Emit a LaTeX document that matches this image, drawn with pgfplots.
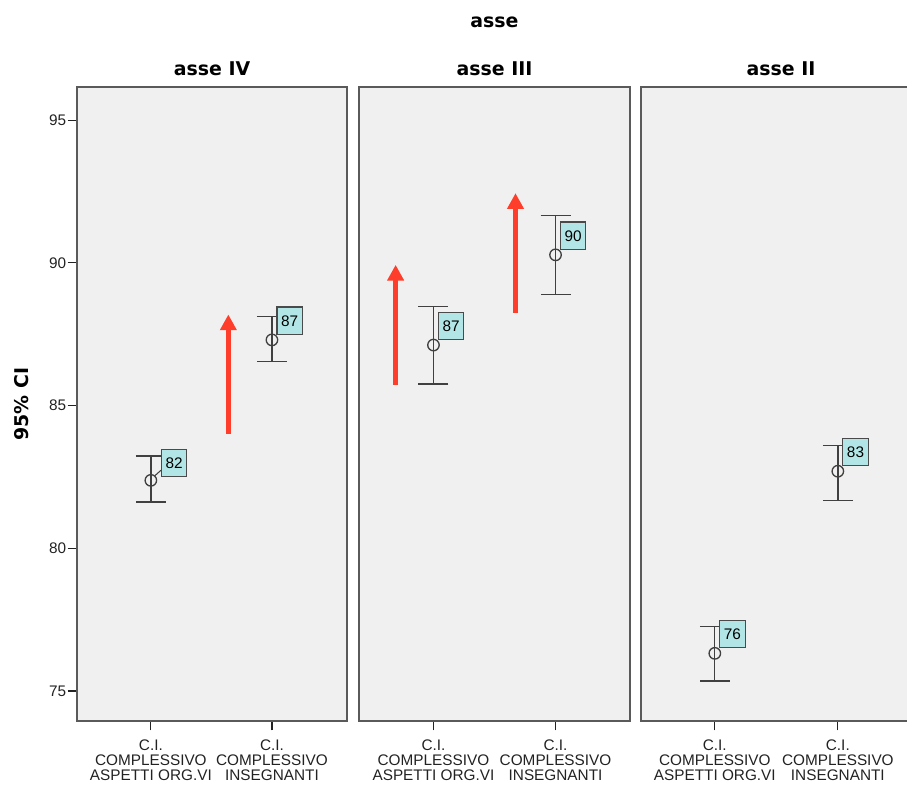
\documentclass[border=0pt]{standalone}
\usepackage{fontspec}
\setmainfont{Liberation Sans}
\newfontfamily\dejavu{DejaVu Sans}
\usepackage{pgfplots}
\pgfplotsset{compat=1.18}
\usetikzlibrary{arrows.meta}
\definecolor{panelbg}{HTML}{F0F0F0}
\definecolor{framecol}{HTML}{5A5A5A}
\definecolor{ebcol}{HTML}{404040}
\definecolor{boxfill}{HTML}{B2E6E6}
\definecolor{boxborder}{HTML}{4A4A4A}
\definecolor{arrred}{HTML}{FF3D2B}
\definecolor{tickcol}{HTML}{222222}
\pgfplotsset{
  panel/.style={
    scale only axis, height=475.5pt,
    ymin=73.95, ymax=96.16,
    xtick={0,1},
    xticklabels={{C.I.\\COMPLESSIVO\\ASPETTI ORG.VI},{C.I.\\COMPLESSIVO\\INSEGNANTI}},
    xticklabel style={align=center, font=\fontsize{11.5}{11.2}\selectfont, text=tickcol, inner sep=1pt, yshift=-6pt},
    yticklabel style={font=\fontsize{11.5}{12}\selectfont, text=tickcol, inner sep=1pt},
    /pgf/number format/assume math mode=true,
    axis background/.style={fill=panelbg},
    axis line style={draw=framecol, line width=1.2pt},
    tick style={draw=tickcol, line width=0.9pt},
    tick align=outside, major tick length=7pt,
    xtick pos=bottom, ytick pos=left,
    title style={at={(0.5,1)}, anchor=center, yshift=7.5pt, font=\dejavu\bfseries\fontsize{14.2}{16}\selectfont},
    anchor=south west,
  },
  pts/.style={
    only marks, mark=o, mark size=4.3pt,
    mark options={draw=ebcol, fill=panelbg, line width=1pt},
    error bars/y dir=both, error bars/y explicit,
    error bars/error bar style={line width=1pt, draw=ebcol},
    error bars/error mark options={rotate=90, line width=1pt, draw=ebcol, mark size=11.25pt},
  },
  lab/.style={
    nodes near coords, point meta=explicit symbolic,
    every node near coord/.style={anchor=south west, xshift=#1, yshift=3.75pt,
      draw=boxborder, fill=boxfill, line width=0.9pt, text=black,
      font=\fontsize{11.5}{12}\selectfont, inner sep=0pt,
      text height=8.5pt, text depth=0pt,
      minimum width=19pt, minimum height=20.5pt},
  },
  arr/.style={arrred, line width=4pt, -{Triangle[width=12pt,length=11.8pt]}, mark=none},
}
\begin{document}
\begin{tikzpicture}
\path[use as bounding box] (-57.75pt,-48pt) rectangle (622.5pt,540.75pt);
\node[font=\dejavu\bfseries\fontsize{14.2}{16}\selectfont] at (313.1pt,524.25pt) {asse};
% asse IV
\begin{axis}[panel, at={(0pt,0pt)}, width=202.5pt, xmin=-0.61, xmax=1.62,
  ytick={75,80,85,90,95}, title={asse IV}, ylabel={95\% CI},
  ylabel style={at={(axis description cs:-0.2037,0.5)}, anchor=center, font=\dejavu\bfseries\fontsize{14.2}{16}\selectfont}]
\addplot[pts, lab=7.5pt, every node near coord/.append style={yshift=-1.5pt,
  append after command={([yshift=5.25pt]\tikzlastnode.south west) edge[draw=ebcol, line width=0.8pt] ([xshift=-4.5pt,yshift=1.2pt]\tikzlastnode.south west)}}]
  table[x=x, y=y, y error plus=ep, y error minus=em, meta=lab] {
x y ep em lab
0 82.38 0.85 0.76 82
};
\addplot[pts, lab=3.3pt] table[x=x, y=y, y error plus=ep, y error minus=em, meta=lab] {
x y ep em lab
1 87.30 0.83 0.75 87
};
\addplot[arr] coordinates {(0.64,84.02) (0.64,88.19)};
\end{axis}
% asse III
\begin{axis}[panel, at={(211.5pt,0pt)}, width=203.25pt, xmin=-0.61, xmax=1.61,
  ytick=\empty, title={asse III}]
\addplot[pts, lab=3.3pt] table[x=x, y=y, y error plus=ep, y error minus=em, meta=lab] {
x y ep em lab
0 87.12 1.36 1.36 87
1 90.28 1.37 1.40 90
};
\addplot[arr] coordinates {(-0.31,85.73) (-0.31,89.93)};
\addplot[arr] coordinates {(0.672,88.26) (0.672,92.44)};
\end{axis}
% asse II
\begin{axis}[panel, at={(423pt,0pt)}, width=210pt, xmin=-0.6, xmax=1.676,
  ytick=\empty, title={asse II}]
\addplot[pts, lab=3.3pt] table[x=x, y=y, y error plus=ep, y error minus=em, meta=lab] {
x y ep em lab
0 76.32 0.93 0.97 76
1 82.70 0.91 1.02 83
};
\end{axis}
\end{tikzpicture}
\end{document}
